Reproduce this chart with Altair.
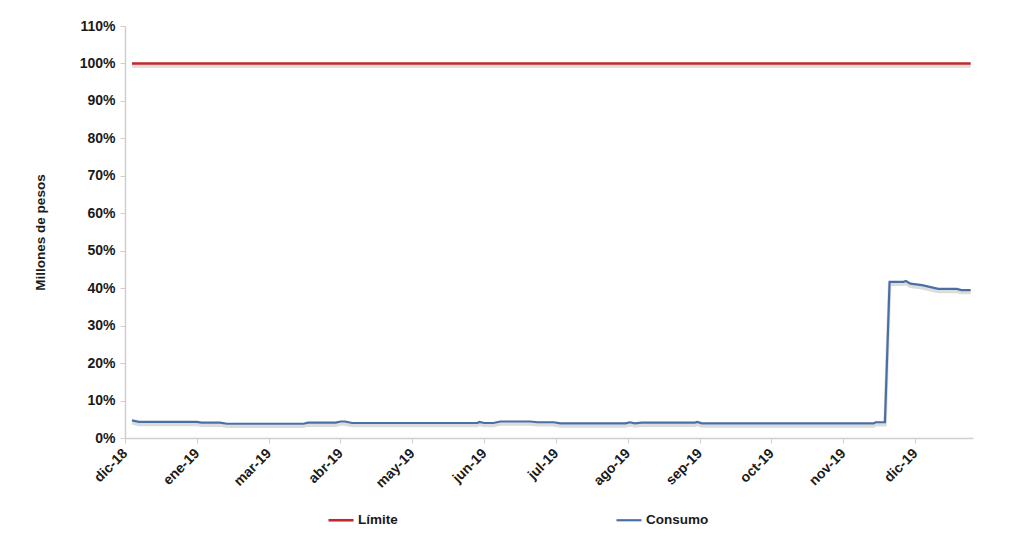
import altair as alt
import pandas as pd

# ---- data ----
consumo_dates = [
    "2019-01-03", "2019-01-06", "2019-01-31", "2019-02-02", "2019-02-10", "2019-02-13",
    "2019-03-18", "2019-03-20", "2019-04-01", "2019-04-03", "2019-04-05", "2019-04-08",
    "2019-06-01", "2019-06-02", "2019-06-04", "2019-06-08", "2019-06-11", "2019-06-24",
    "2019-06-27", "2019-07-04", "2019-07-07", "2019-08-04", "2019-08-06", "2019-08-08",
    "2019-08-11", "2019-09-03", "2019-09-04", "2019-09-06", "2019-11-19", "2019-11-20",
    "2019-11-24", "2019-11-26", "2019-12-02", "2019-12-03", "2019-12-05", "2019-12-10",
    "2019-12-17", "2019-12-25", "2019-12-27", "2019-12-31",
]
consumo_values = [
    0.047, 0.043, 0.043, 0.041, 0.041, 0.038,
    0.038, 0.041, 0.041, 0.044, 0.044, 0.040,
    0.040, 0.043, 0.040, 0.040, 0.044, 0.044,
    0.042, 0.042, 0.039, 0.039, 0.042, 0.039,
    0.041, 0.041, 0.043, 0.039, 0.039, 0.042,
    0.042, 0.417, 0.417, 0.419, 0.412, 0.408,
    0.398, 0.398, 0.395, 0.395,
]
limite_dates = ["2019-01-03", "2019-12-31"]
limite_values = [1.0, 1.0]

series_names = ["Límite", "Consumo"]
series_colors = ["#c0282d", "#4a6fa5"]
series_widths = [2.6, 2.2]

month_abbr = ["ene", "feb", "mar", "abr", "may", "jun",
              "jul", "ago", "sep", "oct", "nov", "dic"]
y_ticks = [0.0, 0.1, 0.2, 0.3, 0.4, 0.5, 0.6, 0.7, 0.8, 0.9, 1.0, 1.1]

# Excel-style date axis: start 31-dic-2018, major unit 31 days
tick_dates = pd.date_range("2018-12-31", periods=12, freq="31D")
x_tick_values = [int(t.timestamp() * 1000) for t in tick_dates]
x_min = int(pd.Timestamp("2018-12-31").timestamp() * 1000)
x_max = int(pd.Timestamp("2020-01-01").timestamp() * 1000)

df = pd.concat([
    pd.DataFrame({"fecha": limite_dates, "valor": limite_values, "serie": "Límite"}),
    pd.DataFrame({"fecha": consumo_dates, "valor": consumo_values, "serie": "Consumo"}),
], ignore_index=True)

FONT = "Liberation Sans"
labels_js = "[" + ",".join("'%s'" % m for m in month_abbr) + "]"

x_enc = alt.X(
    "fecha:T",
    scale=alt.Scale(type="utc", domain=[x_min, x_max]),
    axis=alt.Axis(
        values=x_tick_values,
        labelExpr=labels_js + "[utcmonth(datum.value)] + '-' + utcFormat(datum.value, '%y')",
        labelAngle=-45, labelAlign="right", labelBaseline="middle",
        labelFontSize=14, labelFontWeight="bold", labelColor="#1a1a1a", labelFont=FONT,
        labelPadding=8, tickSize=5, tickColor="#cfcfcf", domainColor="#cfcfcf",
        domainWidth=1.5, grid=False, title=None, labelOverlap=False, labelFlush=False,
    ),
)
y_enc = alt.Y(
    "valor:Q",
    scale=alt.Scale(domain=[0, 1.1], nice=False),
    axis=alt.Axis(
        values=y_ticks, format=".0%",
        labelFontSize=14, labelFontWeight="bold", labelColor="#1a1a1a", labelFont=FONT,
        labelPadding=5, tickSize=5, tickColor="#cfcfcf", domainColor="#cfcfcf",
        domainWidth=1.5, grid=False,
        title="Millones de pesos", titleFontSize=13.5, titleFontWeight="bold",
        titleFont=FONT, titleColor="#1a1a1a", titlePadding=32,
    ),
)

shadow = alt.Chart(df).mark_line(
    color="#9a9a9a", opacity=0.35, strokeWidth=3.5, yOffset=2.5, interpolate="linear"
).encode(x=x_enc, y=y_enc, detail="serie:N")

lines = alt.Chart(df).mark_line(interpolate="linear").encode(
    x=x_enc,
    y=y_enc,
    strokeWidth=alt.StrokeWidth(
        "serie:N", scale=alt.Scale(domain=series_names, range=series_widths), legend=None
    ),
    color=alt.Color(
        "serie:N",
        scale=alt.Scale(domain=series_names, range=series_colors),
        legend=alt.Legend(
            orient="none", legendX=202, legendY=480, direction="horizontal",
            title=None, symbolType="stroke", symbolSize=625, symbolStrokeWidth=3,
            labelFontSize=13.5, labelFontWeight="bold", labelFont=FONT,
            labelColor="#1a1a1a", labelOffset=3, columnPadding=214,
        ),
    ),
)

chart = alt.layer(shadow, lines).properties(
    width=848, height=412,
    autosize=alt.AutoSizeParams(type="none"),
    padding={"left": 117, "top": 18, "right": 40, "bottom": 100},
).configure(background="white").configure_view(stroke=None)

chart.save("out.html", embed_options={"renderer": "svg", "actions": False})
